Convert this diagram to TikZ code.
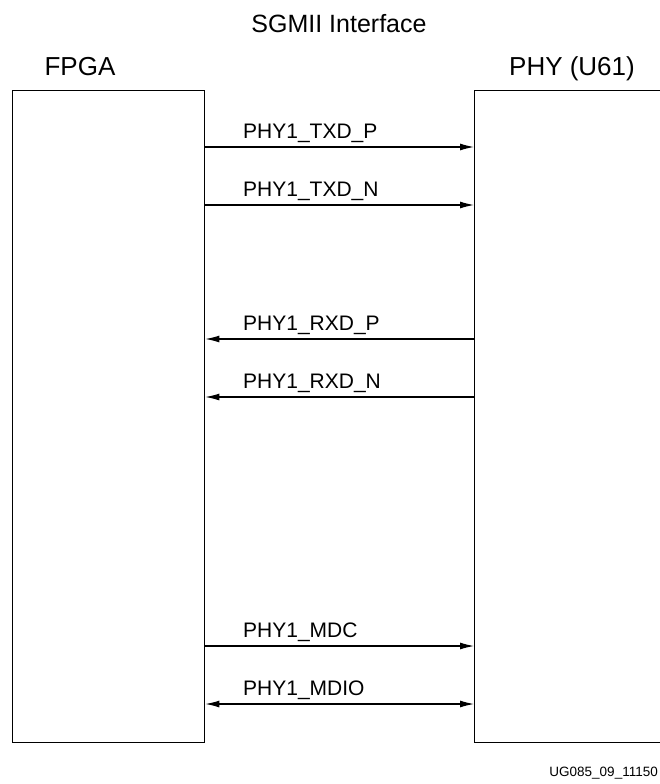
\documentclass[tikz,border=0pt]{standalone}
\usepackage{fontspec}
\setmainfont{Liberation Sans}
\usetikzlibrary{arrows.meta}

\begin{document}
\begin{tikzpicture}[
    x=1pt, y=-1pt,
    chip/.style={draw, line width=1.4pt, inner sep=0pt},
    head/.style={font=\fontsize{26}{30}\selectfont, anchor=base},
    sig/.style={line width=1.1pt},
    tip/.style={-{Latex[length=14pt, width=7pt]}},
    tips/.style={{Latex[length=14pt, width=7pt]}-{Latex[length=14pt, width=7pt]}},
    siglabel/.style={font=\fontsize{21}{25}\selectfont, anchor=base west, inner sep=0pt}
]
\useasboundingbox (0,0) rectangle (660,784);

\node[head, font=\fontsize{25}{30}\selectfont] (title) at (339, 33) {SGMII Interface};
\node[head] (fpgalabel) at (80, 75) {FPGA};
\node[head] (phylabel) at (572, 75) {PHY (U61)};

\node[chip, minimum width=192pt, minimum height=652pt, anchor=north west] (fpga) at (12, 90) {};
\node[chip, minimum width=210pt, minimum height=652pt, anchor=north west] (phy) at (474, 90) {};

\draw[sig, tip] (fpga.east |- 0,147) -- (phy.west |- 0,147);
\node[siglabel] (txdp) at (243, 138) {PHY1\_TXD\_P};
\draw[sig, tip] (fpga.east |- 0,205) -- (phy.west |- 0,205);
\node[siglabel] (txdn) at (243, 196) {PHY1\_TXD\_N};

\draw[sig, tip] (phy.west |- 0,339) -- (fpga.east |- 0,339);
\node[siglabel] (rxdp) at (243, 330) {PHY1\_RXD\_P};
\draw[sig, tip] (phy.west |- 0,397) -- (fpga.east |- 0,397);
\node[siglabel] (rxdn) at (243, 388) {PHY1\_RXD\_N};

\draw[sig, tip] (fpga.east |- 0,646) -- (phy.west |- 0,646);
\node[siglabel] (mdc) at (243, 637) {PHY1\_MDC};
\draw[sig, tips] (fpga.east |- 0,704) -- (phy.west |- 0,704);
\node[siglabel] (mdio) at (243, 695) {PHY1\_MDIO};

\node[font=\fontsize{13.5}{16}\selectfont, anchor=base east, inner sep=0pt] (figid) at (658, 776) {UG085\_09\_11150};
\end{tikzpicture}
\end{document}
